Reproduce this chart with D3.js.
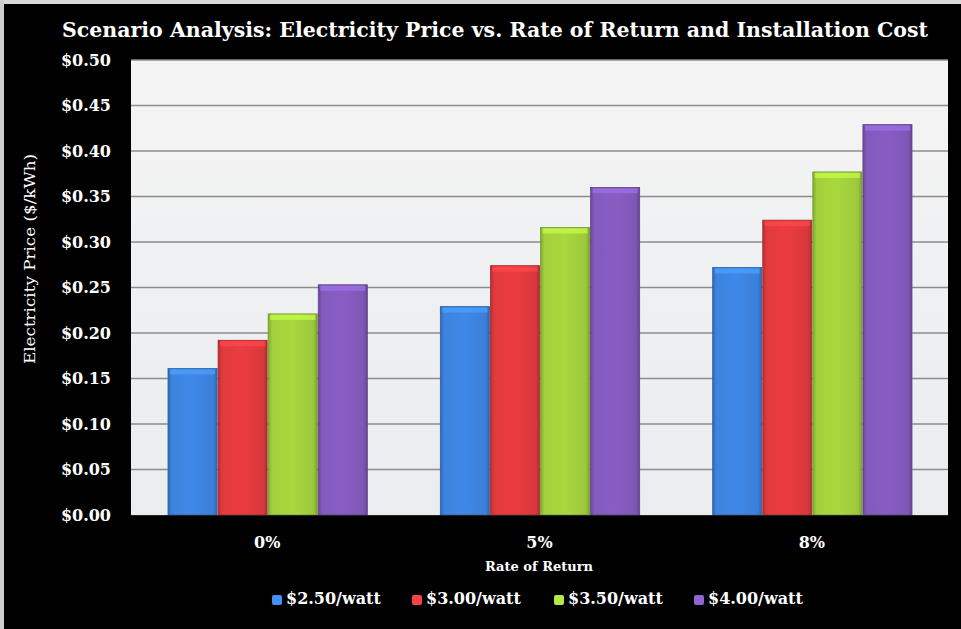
<!DOCTYPE html>
<html>
<head>
<meta charset="utf-8">
<script src="https://cdn.jsdelivr.net/npm/d3@7"></script>
<style>
  html, body { margin: 0; padding: 0; background: #000; }
  svg { display: block; }
</style>
</head>
<body>
<svg id="chart" width="961" height="629"></svg>
<script>
// Rate-of-return scenarios on the x axis
const categories = ["0%", "5%", "8%"];
// Installation cost series
const seriesNames = ["$2.50/watt", "$3.00/watt", "$3.50/watt", "$4.00/watt"];
// Electricity price ($/kWh) per series, one value per category
const price250 = [0.161, 0.229, 0.272];
const price300 = [0.192, 0.274, 0.324];
const price350 = [0.221, 0.316, 0.377];
const price400 = [0.253, 0.360, 0.429];
const yTicks = [0, 0.05, 0.10, 0.15, 0.20, 0.25, 0.30, 0.35, 0.40, 0.45, 0.50];
const seriesColors = ["#3b7fd8", "#d9383c", "#9cc93a", "#7e57b6"];

const seriesValues = [price250, price300, price350, price400];

const W = 961, H = 629;
const svg = d3.select("#chart");
const serif = "'DejaVu Serif', 'Liberation Serif', serif";

// Frame: light strip along top and left edges
svg.append("rect").attr("x", 0).attr("y", 0).attr("width", W).attr("height", H).attr("fill", "#000");
svg.append("rect").attr("x", 0).attr("y", 0).attr("width", W).attr("height", 4).attr("fill", "#d9d9d9");
svg.append("rect").attr("x", 0).attr("y", 0).attr("width", 4).attr("height", H).attr("fill", "#cfcfcf");

const plot = { left: 131, right: 948, top: 60, bottom: 515 };

const x0 = d3.scaleBand().domain(categories).range([plot.left, plot.right]).paddingInner(0).paddingOuter(0);
const x1 = d3.scaleBand().domain(seriesNames).range([37, x0.bandwidth() - 36]).paddingInner(0.02);
const y = d3.scaleLinear().domain([0, 0.5]).range([plot.bottom, plot.top]);

const defs = svg.append("defs");
const bgGrad = defs.append("linearGradient").attr("id", "bg").attr("x1", 0).attr("y1", 0).attr("x2", 0).attr("y2", 1);
bgGrad.append("stop").attr("offset", "0%").attr("stop-color", "#f4f4f4");
bgGrad.append("stop").attr("offset", "100%").attr("stop-color", "#eaecef");

seriesColors.forEach((c, i) => {
  const g = defs.append("linearGradient").attr("id", "bar" + i).attr("x1", 0).attr("y1", 0).attr("x2", 1).attr("y2", 0);
  const base = d3.color(c);
  g.append("stop").attr("offset", "0%").attr("stop-color", base.darker(0.5));
  g.append("stop").attr("offset", "8%").attr("stop-color", base.brighter(0.1));
  g.append("stop").attr("offset", "50%").attr("stop-color", base.brighter(0.2));
  g.append("stop").attr("offset", "92%").attr("stop-color", base);
  g.append("stop").attr("offset", "100%").attr("stop-color", base.darker(0.6));
});

// Plot background
svg.append("rect")
  .attr("x", plot.left).attr("y", plot.top)
  .attr("width", plot.right - plot.left).attr("height", plot.bottom - plot.top)
  .attr("fill", "url(#bg)");

// Gridlines
svg.append("g")
  .selectAll("line")
  .data(yTicks.filter(d => d > 0))
  .join("line")
  .attr("x1", plot.left).attr("x2", plot.right)
  .attr("y1", d => y(d)).attr("y2", d => y(d))
  .attr("stroke", "#8d8d8d").attr("stroke-width", 1.5);

// Bars
const groups = svg.append("g")
  .selectAll("g")
  .data(categories)
  .join("g")
  .attr("transform", d => `translate(${x0(d)},0)`);

groups.selectAll("g.bar")
  .data((cat, ci) => seriesNames.map((s, si) => ({ s, si, v: seriesValues[si][ci] })))
  .join("g")
  .attr("class", "bar")
  .each(function (d) {
    const g = d3.select(this);
    const bx = x1(d.s), bw = x1.bandwidth();
    const top = y(d.v), h = y(0) - y(d.v);
    g.append("rect")
      .attr("x", bx).attr("y", top).attr("width", bw).attr("height", h)
      .attr("fill", `url(#bar${d.si})`)
      .attr("stroke", d3.color(seriesColors[d.si]).darker(0.8)).attr("stroke-width", 0.8);
    // bevelled top rim
    g.append("rect")
      .attr("x", bx + 2).attr("y", top + 1).attr("width", bw - 4).attr("height", 5)
      .attr("fill", d3.color(seriesColors[d.si]).brighter(0.7)).attr("opacity", 0.7);
  });

// Y axis
const yAxis = d3.axisLeft(y).tickValues(yTicks).tickSize(0).tickPadding(20)
  .tickFormat(d => "$" + d.toFixed(2));
const yg = svg.append("g").attr("transform", `translate(${plot.left},0)`).call(yAxis);
yg.select(".domain").remove();
yg.selectAll("text")
  .attr("fill", "#fff").attr("font-family", serif).attr("font-weight", "bold").attr("font-size", 16);

// X axis
const xAxis = d3.axisBottom(x0).tickSize(0).tickPadding(22);
const xg = svg.append("g").attr("transform", `translate(0,${plot.bottom})`).call(xAxis);
xg.select(".domain").attr("stroke", "#222");
xg.selectAll("text")
  .attr("fill", "#fff").attr("font-family", serif).attr("font-weight", "bold").attr("font-size", 16);

// Title
svg.append("text")
  .attr("x", 495).attr("y", 37).attr("text-anchor", "middle")
  .attr("fill", "#fff").attr("font-family", serif).attr("font-weight", "bold").attr("font-size", 21)
  .attr("textLength", 866).attr("lengthAdjust", "spacingAndGlyphs")
  .text("Scenario Analysis: Electricity Price vs. Rate of Return and Installation Cost");

// Axis titles
svg.append("text")
  .attr("transform", "translate(35,259) rotate(-90)")
  .attr("text-anchor", "middle").attr("fill", "#fff")
  .attr("font-family", serif).attr("font-size", 14)
  .attr("textLength", 210).attr("lengthAdjust", "spacingAndGlyphs")
  .text("Electricity Price ($/kWh)");

svg.append("text")
  .attr("x", 539).attr("y", 571).attr("text-anchor", "middle")
  .attr("fill", "#fff").attr("font-family", serif).attr("font-weight", "bold").attr("font-size", 13)
  .text("Rate of Return");

// Legend
const legendX = [272, 412, 554, 694];
const legend = svg.append("g");
seriesNames.forEach((s, i) => {
  const lg = legend.append("g").attr("transform", `translate(${legendX[i]},604)`);
  lg.append("rect").attr("x", 0).attr("y", -9).attr("width", 10).attr("height", 10)
    .attr("rx", 2).attr("fill", d3.color(seriesColors[i]).brighter(0.4));
  lg.append("text").attr("x", 14).attr("y", 0)
    .attr("fill", "#fff").attr("font-family", serif).attr("font-weight", "bold").attr("font-size", 16)
    .text(s);
});
</script>
</body>
</html>
